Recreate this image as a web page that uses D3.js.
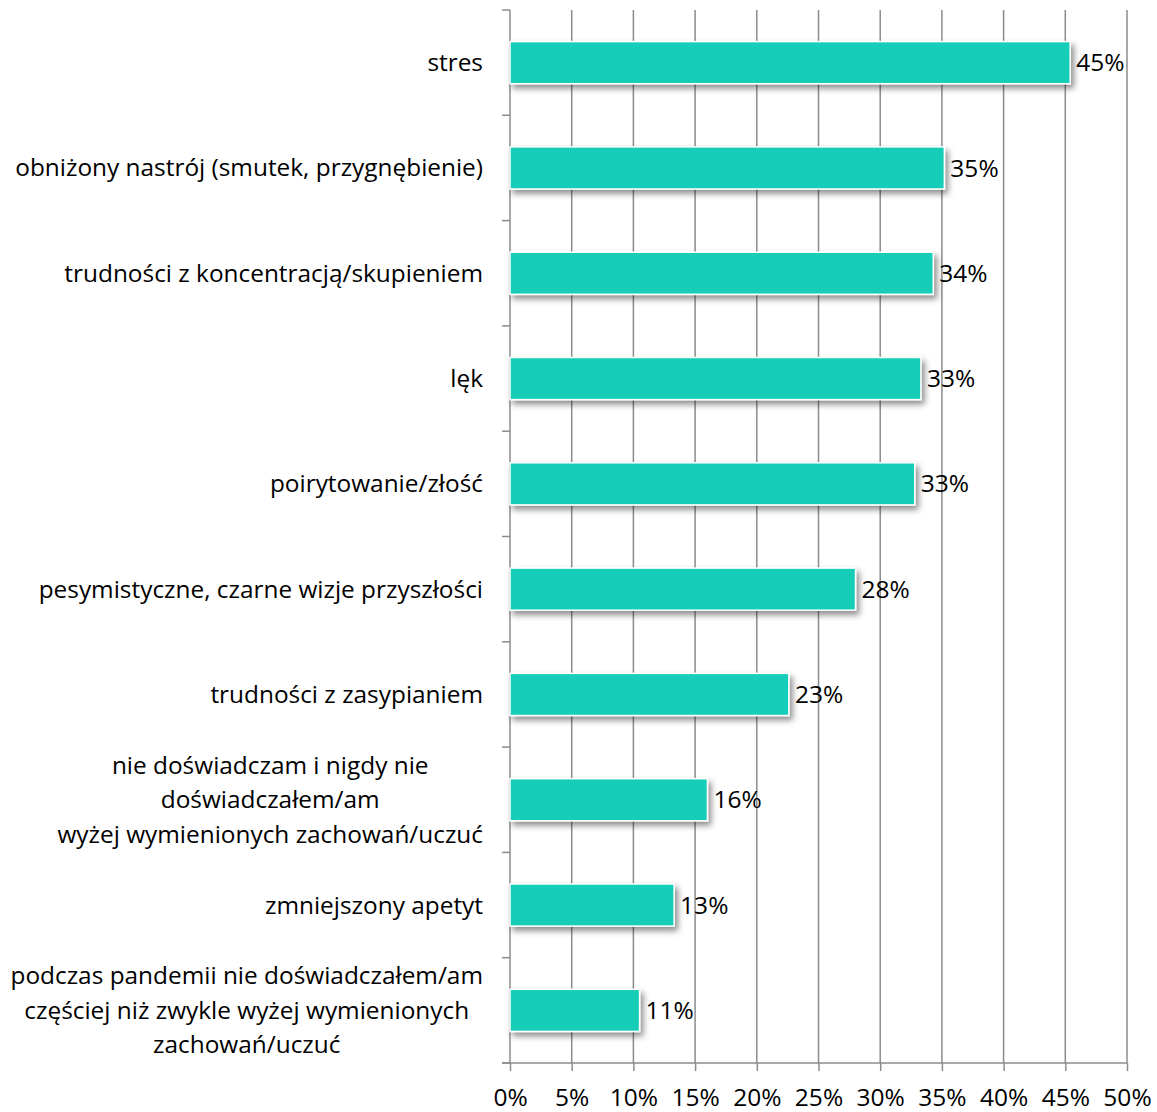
<!DOCTYPE html>
<html>
<head>
<meta charset="utf-8">
<script src="https://cdn.jsdelivr.net/npm/d3@7"></script>
<style>
  body { margin: 0; background: #fff; }
  svg text { font-family: "Open Sans", sans-serif; fill: #000; }
</style>
</head>
<body>
<div id="chart"></div>
<script>
// categories, top to bottom (multi-line labels split by '|')
var categories = [
    'stres',
    'obniżony nastrój (smutek, przygnębienie)',
    'trudności z koncentracją/skupieniem',
    'lęk',
    'poirytowanie/złość',
    'pesymistyczne, czarne wizje przyszłości',
    'trudności z zasypianiem',
    'nie doświadczam i nigdy nie|doświadczałem/am|wyżej wymienionych zachowań/uczuć',
    'zmniejszony apetyt',
    'podczas pandemii nie doświadczałem/am|częściej niż zwykle wyżej wymienionych|zachowań/uczuć'
];
var values = [45.4, 35.2, 34.3, 33.3, 32.8, 28.0, 22.6, 16.0, 13.3, 10.5];
var valueLabels = ['45%', '35%', '34%', '33%', '33%', '28%', '23%', '16%', '13%', '11%'];
var xTicks = [0, 5, 10, 15, 20, 25, 30, 35, 40, 45, 50];

var W = 1157, H = 1112;
var margin = {left: 510, right: 30, top: 10, bottom: 49};
var innerW = 1127 - margin.left, innerH = H - margin.top - margin.bottom;
var fontCat = 24.4, fontNum = 24.5;

var svg = d3.select('#chart').append('svg')
    .attr('width', W).attr('height', H);

var defs = svg.append('defs');
var f = defs.append('filter').attr('id', 'shadow')
    .attr('x', '-10%').attr('y', '-30%').attr('width', '130%').attr('height', '180%');
f.append('feDropShadow')
    .attr('dx', 3).attr('dy', 4).attr('stdDeviation', 3)
    .attr('flood-color', '#000').attr('flood-opacity', 0.45);

var g = svg.append('g').attr('transform', 'translate(' + margin.left + ',' + margin.top + ')');

var x = d3.scaleLinear().domain([0, 50]).range([0, innerW]);
var y = d3.scaleBand().domain(d3.range(categories.length)).range([0, innerH]).paddingInner(0.6).paddingOuter(0.3);

// gridlines
g.append('g').selectAll('line').data(xTicks.slice(1)).join('line')
    .attr('x1', d => x(d)).attr('x2', d => x(d))
    .attr('y1', 0).attr('y2', innerH)
    .attr('stroke', '#8c8c8c').attr('stroke-width', 1.5);

// x axis
var xAxis = g.append('g').attr('transform', 'translate(0,' + innerH + ')')
    .call(d3.axisBottom(x).tickValues(xTicks).tickSize(8).tickPadding(18).tickFormat(d => d + '%'));
xAxis.select('.domain').attr('stroke', '#8c8c8c').attr('stroke-width', 1.5)
    .attr('d', 'M-8,0H' + innerW);
xAxis.selectAll('.tick line').attr('stroke', '#8c8c8c').attr('stroke-width', 1.5);
xAxis.selectAll('.tick text').attr('font-size', fontNum).attr('font-family', '"Open Sans", sans-serif').attr('fill', '#000');

// y axis line + ticks at band boundaries
var boundaries = d3.range(categories.length + 1).map(i => i * innerH / categories.length);
g.append('line').attr('x1', 0).attr('x2', 0).attr('y1', 0).attr('y2', innerH)
    .attr('stroke', '#8c8c8c').attr('stroke-width', 1.5);
g.append('g').selectAll('line').data(boundaries).join('line')
    .attr('x1', -8).attr('x2', 0).attr('y1', d => d).attr('y2', d => d)
    .attr('stroke', '#8c8c8c').attr('stroke-width', 1.5);

// bars
g.append('g').selectAll('rect').data(values).join('rect')
    .attr('x', 0)
    .attr('y', (d, i) => y(i))
    .attr('width', d => x(d))
    .attr('height', y.bandwidth())
    .attr('fill', '#17cdb8')
    .attr('stroke', '#fff').attr('stroke-width', 1.5)
    .attr('filter', 'url(#shadow)');

// value labels
g.append('g').selectAll('text').data(values).join('text')
    .attr('x', d => x(d) + 6)
    .attr('y', (d, i) => y(i) + y.bandwidth() / 2)
    .attr('dy', '0.35em')
    .attr('font-size', fontNum)
    .text((d, i) => valueLabels[i]);

// category labels
var catG = g.append('g');
categories.forEach(function(c, i){
    var lines = c.split('|');
    var cy = y(i) + y.bandwidth() / 2;
    var lh = 34.5;
    var t = catG.append('text').attr('font-size', fontCat);
    lines.forEach(function(l, k){
        t.append('tspan').attr('x', 0)
            .attr('y', cy + (k - (lines.length - 1) / 2) * lh)
            .attr('dy', '0.35em').text(l);
    });
    if (lines.length === 1) {
        t.attr('text-anchor', 'end').selectAll('tspan').attr('x', -27);
    } else {
        var maxW = d3.max(t.selectAll('tspan').nodes(), n => n.getComputedTextLength());
        t.attr('text-anchor', 'middle').selectAll('tspan').attr('x', -27 - maxW / 2);
    }
});
</script>
</body>
</html>
